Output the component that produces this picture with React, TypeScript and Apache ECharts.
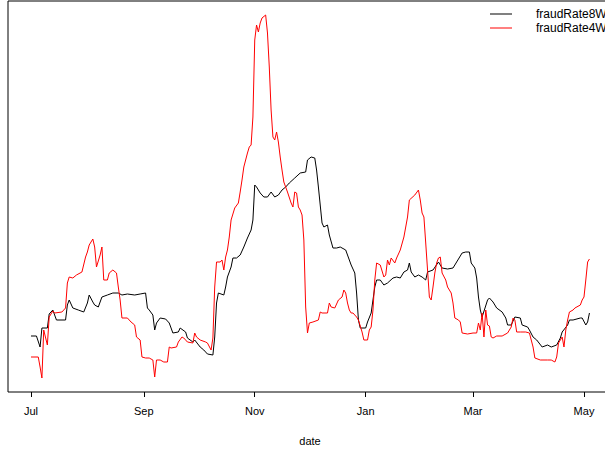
import React, { useEffect, useRef } from "react";
import * as echarts from "echarts";

// Days since 2014-07-01 and values (fraud rate, arbitrary units)
const days8W = [0, 3, 5, 6, 9, 10, 12, 14, 19, 20, 21, 23, 26, 29, 31, 32, 34, 35, 37, 39, 42, 45, 48, 50, 53, 57, 60, 63, 64, 65, 67, 68, 69, 71, 74, 76, 78, 81, 82, 85, 86, 89, 90, 93, 95, 97, 100, 101, 102, 103, 106, 107, 108, 110, 111, 113, 115, 117, 119, 121, 122, 123, 124, 126, 128, 130, 132, 134, 136, 138, 140, 142, 145, 148, 151, 152, 154, 156, 157, 158, 160, 161, 163, 164, 166, 168, 170, 173, 174, 176, 178, 179, 180, 181, 184, 185, 187, 189, 190, 192, 194, 196, 199, 201, 203, 205, 207, 208, 209, 211, 213, 215, 217, 218, 221, 224, 226, 229, 232, 234, 237, 239, 241, 242, 244, 245, 246, 247, 248, 251, 252, 254, 256, 259, 261, 262, 264, 266, 269, 270, 273, 274, 276, 278, 281, 284, 286, 289, 291, 292, 295, 296, 298, 302, 303, 305, 306, 307];
const rate8W = [0.56, 0.56, 0.45, 0.64, 0.64, 0.78, 0.82, 0.72, 0.72, 0.87, 0.92, 0.84, 0.82, 0.80, 0.89, 0.97, 0.90, 0.87, 0.85, 0.95, 0.97, 0.99, 0.99, 0.97, 0.98, 0.97, 0.98, 0.99, 0.84, 0.82, 0.77, 0.62, 0.69, 0.74, 0.73, 0.69, 0.59, 0.60, 0.64, 0.60, 0.54, 0.50, 0.52, 0.45, 0.42, 0.38, 0.37, 0.55, 0.89, 0.99, 0.97, 1.05, 1.15, 1.25, 1.34, 1.34, 1.37, 1.45, 1.54, 1.62, 1.72, 2.07, 2.05, 1.99, 1.95, 1.95, 2.00, 1.95, 1.97, 2.02, 2.05, 2.09, 2.14, 2.19, 2.20, 2.32, 2.35, 2.34, 2.22, 2.05, 1.69, 1.65, 1.67, 1.57, 1.44, 1.44, 1.45, 1.42, 1.37, 1.27, 1.19, 0.99, 0.72, 0.64, 0.64, 0.70, 0.79, 1.05, 1.12, 1.12, 1.07, 1.09, 1.14, 1.15, 1.14, 1.20, 1.22, 1.29, 1.20, 1.15, 1.17, 1.15, 1.12, 1.20, 1.22, 1.30, 1.24, 1.23, 1.24, 1.30, 1.39, 1.40, 1.40, 1.29, 1.24, 1.14, 0.95, 0.82, 0.75, 0.92, 0.94, 0.90, 0.84, 0.80, 0.74, 0.67, 0.67, 0.75, 0.74, 0.67, 0.65, 0.62, 0.55, 0.52, 0.45, 0.47, 0.45, 0.47, 0.54, 0.60, 0.67, 0.72, 0.72, 0.74, 0.74, 0.67, 0.70, 0.79];

const days4W = [0, 4, 5, 6, 7, 9, 10, 12, 13, 17, 19, 20, 21, 23, 25, 28, 30, 31, 32, 34, 35, 36, 38, 39, 40, 42, 43, 45, 47, 48, 49, 50, 53, 55, 57, 58, 60, 61, 63, 65, 67, 68, 69, 71, 73, 75, 76, 77, 80, 81, 83, 84, 86, 89, 90, 91, 93, 96, 97, 99, 100, 101, 102, 104, 105, 106, 107, 108, 109, 110, 112, 114, 115, 116, 117, 119, 120, 121, 122, 123, 124, 125, 126, 127, 129, 130, 131, 132, 133, 134, 135, 136, 137, 138, 139, 141, 143, 144, 145, 146, 147, 148, 149, 150, 151, 152, 153, 155, 158, 159, 160, 163, 164, 165, 167, 169, 171, 172, 173, 174, 175, 176, 177, 179, 180, 182, 183, 185, 186, 187, 188, 189, 190, 192, 194, 195, 196, 197, 198, 200, 201, 203, 205, 206, 207, 208, 211, 213, 214, 215, 216, 217, 218, 219, 220, 221, 222, 223, 224, 225, 226, 228, 229, 231, 232, 233, 235, 236, 237, 240, 243, 245, 246, 247, 248, 249, 250, 251, 252, 253, 254, 256, 259, 262, 263, 264, 265, 266, 267, 269, 272, 274, 276, 277, 280, 284, 286, 288, 289, 290, 292, 293, 294, 295, 296, 298, 299, 302, 303, 304, 305, 306, 307];
const rate4W = [0.35, 0.35, 0.25, 0.14, 0.62, 0.47, 0.75, 0.81, 0.79, 0.80, 0.84, 1.09, 1.15, 1.14, 1.17, 1.20, 1.35, 1.40, 1.47, 1.53, 1.45, 1.25, 1.37, 1.45, 1.12, 1.12, 1.19, 1.22, 1.19, 1.05, 0.92, 0.74, 0.74, 0.70, 0.67, 0.55, 0.52, 0.35, 0.34, 0.34, 0.32, 0.15, 0.32, 0.32, 0.30, 0.30, 0.45, 0.44, 0.45, 0.50, 0.55, 0.54, 0.50, 0.49, 0.59, 0.55, 0.52, 0.50, 0.49, 0.42, 0.54, 1.05, 1.30, 1.30, 1.32, 1.22, 1.35, 1.42, 1.55, 1.72, 1.84, 1.89, 2.00, 2.12, 2.25, 2.39, 2.45, 2.47, 2.75, 3.52, 3.67, 3.60, 3.69, 3.74, 3.77, 3.59, 3.25, 2.82, 2.55, 2.52, 2.60, 2.50, 2.35, 2.22, 2.10, 2.00, 1.89, 1.85, 2.00, 1.99, 1.85, 1.82, 1.77, 1.52, 0.85, 0.59, 0.69, 0.70, 0.72, 0.80, 0.79, 0.79, 0.89, 0.85, 0.84, 0.92, 0.95, 1.02, 0.99, 0.89, 0.82, 0.79, 0.79, 0.75, 0.72, 0.60, 0.52, 0.52, 0.62, 0.65, 0.82, 1.12, 1.29, 1.27, 1.15, 1.17, 1.32, 1.27, 1.34, 1.29, 1.34, 1.42, 1.55, 1.65, 1.75, 1.92, 1.97, 2.02, 1.92, 1.79, 1.75, 1.49, 1.22, 0.95, 0.92, 1.05, 1.19, 1.29, 1.34, 1.35, 1.19, 1.12, 1.05, 0.99, 0.89, 0.74, 0.72, 0.70, 0.59, 0.58, 0.59, 0.59, 0.69, 0.62, 0.79, 0.55, 0.82, 0.67, 0.66, 0.55, 0.54, 0.56, 0.56, 0.59, 0.62, 0.65, 0.74, 0.72, 0.60, 0.60, 0.60, 0.59, 0.45, 0.34, 0.32, 0.32, 0.32, 0.30, 0.35, 0.49, 0.55, 0.45, 0.62, 0.72, 0.80, 0.82, 0.84, 0.87, 0.92, 0.95, 1.12, 1.30, 1.33];

const tickDates = ["2014-07-01", "2014-09-01", "2014-11-01", "2015-01-01", "2015-03-01", "2015-05-01"];
const monthNames = ["Jan", "Feb", "Mar", "Apr", "May", "Jun", "Jul", "Aug", "Sep", "Oct", "Nov", "Dec"];
const seriesNames = ["fraudRate8W", "fraudRate4W"];

const START = [2014, 6, 1];
const dayToTime = (d: number) => new Date(START[0], START[1], START[2] + d).getTime();
const parseDate = (s: string) => {
  const [y, m, d] = s.split("-").map(Number);
  return new Date(y, m - 1, d).getTime();
};

export default function App() {
  const ref = useRef<HTMLDivElement>(null);
  useEffect(() => {
    if (!ref.current) return;
    const chart = echarts.init(ref.current, null, { renderer: "svg" });
    const DAY = 86400000;
    const t0 = dayToTime(0);
    const font = "'Liberation Sans', Arial, sans-serif";
    const ticks = tickDates.map(parseDate);
    chart.setOption({
      animation: false,
      backgroundColor: "#ffffff",
      textStyle: { fontFamily: font },
      grid: {
        left: 8,
        width: 604,
        top: 1,
        height: 391,
        outerBoundsMode: "none",
        containLabel: false,
        show: true,
        borderColor: "#000",
        borderWidth: 1,
        backgroundColor: "transparent",
      },
      legend: {
        orient: "vertical",
        left: 490,
        top: 7,
        icon: "rect",
        itemWidth: 22,
        itemHeight: 1,
        itemGap: 0,
        padding: 0,
        data: seriesNames,
        textStyle: {
          fontFamily: font,
          fontSize: 12,
          lineHeight: 14,
          color: "#000",
          padding: [0, 0, 0, 19],
        },
      },
      xAxis: {
        type: "value",
        min: t0 - 12.64 * DAY,
        max: t0 + 319.4 * DAY,
        axisLine: { show: false },
        splitLine: { show: false },
        axisTick: {
          show: true,
          length: 5,
          lineStyle: { color: "#000", width: 1 },
          customValues: ticks,
        },
        axisLabel: {
          customValues: ticks,
          margin: 13,
          fontSize: 11,
          color: "#000",
          fontFamily: font,
          hideOverlap: false,
          showMinLabel: true,
          showMaxLabel: true,
          formatter: (v: number) => monthNames[new Date(v).getMonth()],
        },
        name: "date",
        nameLocation: "middle",
        nameGap: 43,
        nameTextStyle: { fontSize: 11, color: "#000", fontFamily: font },
      },
      yAxis: {
        type: "value",
        min: 0,
        max: 3.91,
        show: false,
        splitLine: { show: false },
      },
      series: [
        {
          name: seriesNames[0],
          type: "line",
          symbol: "none",
          lineStyle: { color: "#000", width: 1 },
          itemStyle: { color: "#000" },
          data: days8W.map((d, i) => [dayToTime(d), rate8W[i]]),
        },
        {
          name: seriesNames[1],
          type: "line",
          symbol: "none",
          lineStyle: { color: "#ff0000", width: 1 },
          itemStyle: { color: "#ff0000" },
          data: days4W.map((d, i) => [dayToTime(d), rate4W[i]]),
        },
      ],
    });
    return () => chart.dispose();
  }, []);
  return (
    <div
      ref={ref}
      style={{ position: "fixed", left: 0, top: 0, width: 605, height: 450, background: "#fff" }}
    />
  );
}
